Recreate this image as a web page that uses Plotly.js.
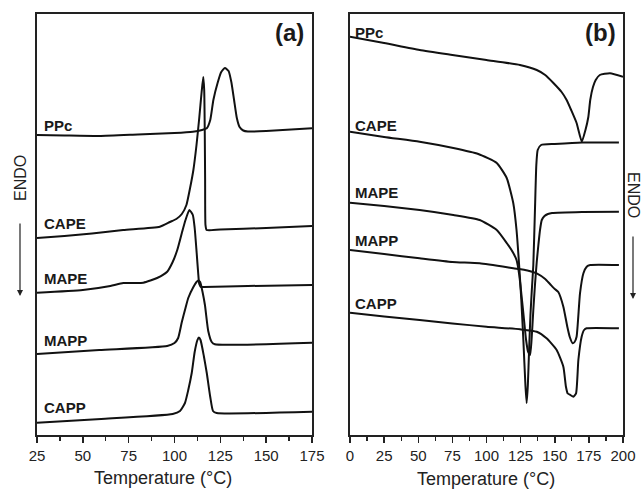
<!DOCTYPE html>
<html>
<head>
<meta charset="utf-8">
<script src="https://cdn.plot.ly/plotly-3.0.1.min.js"></script>
<style>html,body{margin:0;padding:0;background:#fff;}#chart{width:642px;height:491px;}</style>
</head>
<body>
<div id="chart"></div>
<script>
// ---------- Data (heat flow in arbitrary units vs temperature in °C) ----------
const sampleNames = ["PPc", "CAPE", "MAPE", "MAPP", "CAPP"];
const panelLabels = ["(a)", "(b)"];
const axisTitle = "Temperature (°C)";
const endoLabel = "ENDO";
const tickValsA = [25, 50, 75, 100, 125, 150, 175];
const tickValsB = [0, 25, 50, 75, 100, 125, 150, 175, 200];

// Panel (a): cooling scans
const ppcA_T = [25,40,59,80,100,110,115,117.6,119.5,121.2,123.5,125.5,127.5,129.5,131,132.5,134,135.5,137.5,140,150,175];
const ppcA_Y = [300,299.5,299,300.5,302,303.3,305,306.7,315,335,352,363,367,364,353,335,317,308,304.5,303.5,304,306.7];

const capeA_T = [25,40,55,72,92,97.5,101,104,106.5,108.5,110.3,112,113.5,114.8,115.7,116.2,116.5,116.7,116.9,117.5,125,150,175];
const capeA_Y = [197,199,201.5,205,208.3,213,216,221,230,247,265,290,317,343,358,345,305,255,210,205,205.5,207,209];

const mapeA_T = [25,50,65,72,83,90.5,96,99,101.5,104,106,108.1,110,111,112.1,113,113.5,114.5,116,140,175];
const mapeA_Y = [142.3,145,149,152,152.3,157,163.3,173,185,202,215,225,220,207,182,160,151,148,148,149,150];

const mappA_T = [25,59,96,100,102,104,106,107.5,110.3,112,113,114,115.3,116.6,118.4,120.3,122,175];
const mappA_Y = [81,85,89,92,97,113,127,137,148,153,154.5,153,143,130,104,93,90.7,92.3];

const cappA_T = [25,60,99,103,105.7,107.5,109.4,111,112.5,113.3,114.2,116,117.6,119.5,121,123,175];
const cappA_Y = [12.3,16,21,24,32,45,62,83,95,97.5,95,79,62,38,24,22,23.3];

// Panel (b): heating scans
const ppcB_T = [0,25,51,75,100,124.5,136.8,143,149,155,158.7,162,166,169.8,172.5,174.6,176,178,180,183,190.5,200];
const ppcB_Y = [398.3,392,385,380,375,370,365,360,352,343,335,325,312,293.3,305,318,335,348,355,360,361.7,358.3];

const capeB_T = [0,25,51,75.7,94,107.5,114.8,119.6,122,124,125.5,127,128.5,129.4,130.3,131.2,132.2,133.2,134.3,135.5,136.5,137.5,140,150,170,197];
const capeB_Y = [303.3,298,293.3,287,281,272,257,232,205,168,135,95,50,32,50,85,120,145,170,225,270,285,290,291,292.5,292.5];

const mapeB_T = [0,25,51,75.7,95,107.5,114.8,119.6,122,124,126,127.5,129,130.5,131.9,133,134.3,135.5,136.8,138,139.2,140.5,142.5,145,148,170,197];
const mapeB_Y = [232.3,229,225,220,215,205,192,182,175,160,135,115,95,83,80,95,125,150,173,190,205,215,219,221,222,223,223.3];

const mappB_T = [0,25,51,75,95,119.6,130,136.8,143,146.5,150,152.6,156.3,159.2,161,163.1,164.5,166,168.5,171,173.4,176,197];
const mappB_Y = [185,181,176.7,173,171.7,166.7,164.5,161.7,156,151,146,143,128.3,108.3,98,91.7,93,98.3,141.7,161.7,168.3,170,170];

const cappB_T = [0,25,51,75,100,124.5,136.8,144,151.4,156.3,158.2,159.5,161.5,163.6,165.6,167.3,169.7,171.5,173.4,197];
const cappB_Y = [122.3,118.5,115,111.5,108.3,105.7,103.3,96.7,85,68.3,48.3,41.5,40,38.3,41.7,75,98.3,105,106.7,106.7];

// Label anchor values (signal level) for each sample name, per panel
const labelT_A = 27.5, labelT_B = 2.3;
const labelY_A = [310, 212, 157, 95, 28];
const labelY_B = [403, 310, 243, 195, 132];

// ---------- Build ----------
const W = 642, H = 491;
const px = v => v / W, py = v => 1 - v / H;
const lineStyle = {color: "#111", width: 2};
const seriesA = [[ppcA_T, ppcA_Y],[capeA_T, capeA_Y],[mapeA_T, mapeA_Y],[mappA_T, mappA_Y],[cappA_T, cappA_Y]];
const seriesB = [[ppcB_T, ppcB_Y],[capeB_T, capeB_Y],[mapeB_T, mapeB_Y],[mappB_T, mappB_Y],[cappB_T, cappB_Y]];

const traces = [];
seriesA.forEach((s, i) => traces.push({x: s[0], y: s[1], xaxis: "x", yaxis: "y", mode: "lines",
  line: Object.assign({shape: "spline", smoothing: 0.5}, lineStyle), name: sampleNames[i] + " (a)", hoverinfo: "x+y+name"}));
seriesB.forEach((s, i) => traces.push({x: s[0], y: s[1], xaxis: "x2", yaxis: "y2", mode: "lines",
  line: Object.assign({shape: "spline", smoothing: 0.5}, lineStyle), name: sampleNames[i] + " (b)", hoverinfo: "x+y+name"}));

const tickFont = {family: "Liberation Sans, Arial, sans-serif", size: 15, color: "#222"};
function xax(domain, range, vals) {
  return {domain: domain, range: range, tickvals: vals, ticktext: vals.map(String), ticks: "outside", ticklen: 6, tickwidth: 1.5,
    tickcolor: "#222", showline: true, linecolor: "#222", linewidth: 1.8, mirror: true, showgrid: false, zeroline: false,
    tickfont: tickFont, minor: {dtick: 12.5, tick0: 0, ticks: "outside", ticklen: 4, tickwidth: 1.2, tickcolor: "#222"}};
}
function yax(anchor) {
  return {domain: [py(435), py(14)], range: [0, 421], showticklabels: false, ticks: "", showline: true, linecolor: "#222",
    linewidth: 1.8, mirror: true, showgrid: false, zeroline: false, anchor: anchor};
}

const labelFont = {family: "Liberation Sans, Arial, sans-serif", size: 15, color: "#1a1a1a"};
const annotations = [];
sampleNames.forEach((n, i) => {
  annotations.push({xref: "x", yref: "y", x: labelT_A, y: labelY_A[i], text: "<b>" + n + "</b>", showarrow: false,
    xanchor: "left", yanchor: "middle", font: labelFont});
  annotations.push({xref: "x2", yref: "y2", x: labelT_B, y: labelY_B[i], text: "<b>" + n + "</b>", showarrow: false,
    xanchor: "left", yanchor: "middle", font: labelFont});
});
const panelFont = {family: "Liberation Sans, Arial, sans-serif", size: 24, color: "#1a1a1a"};
annotations.push({xref: "paper", yref: "paper", x: px(306), y: py(33), text: "<b>" + panelLabels[0] + "</b>", showarrow: false, xanchor: "right", yanchor: "middle", font: panelFont});
annotations.push({xref: "paper", yref: "paper", x: px(618), y: py(33), text: "<b>" + panelLabels[1] + "</b>", showarrow: false, xanchor: "right", yanchor: "middle", font: panelFont});
const titleFont = {family: "Liberation Sans, Arial, sans-serif", size: 18, color: "#222"};
annotations.push({xref: "paper", yref: "paper", x: px(163), y: py(478), text: axisTitle, showarrow: false, xanchor: "center", yanchor: "middle", font: titleFont});
annotations.push({xref: "paper", yref: "paper", x: px(486.5), y: py(479), text: axisTitle, showarrow: false, xanchor: "center", yanchor: "middle", font: titleFont});
const endoFont = {family: "Liberation Sans, Arial, sans-serif", size: 16, color: "#222"};
annotations.push({xref: "paper", yref: "paper", x: px(20), y: py(178), text: endoLabel, textangle: -90, showarrow: false, xanchor: "center", yanchor: "middle", font: endoFont});
annotations.push({xref: "paper", yref: "paper", x: px(634), y: py(195), text: endoLabel, textangle: 90, showarrow: false, xanchor: "center", yanchor: "middle", font: endoFont});
annotations.push({xref: "paper", yref: "paper", x: px(20), y: py(296), text: "", showarrow: true, ax: 0, ay: -74, arrowhead: 2, arrowsize: 1, arrowwidth: 1.2, arrowcolor: "#222"});
annotations.push({xref: "paper", yref: "paper", x: px(633), y: py(299), text: "", showarrow: true, ax: 0, ay: -64, arrowhead: 2, arrowsize: 1, arrowwidth: 1.2, arrowcolor: "#222"});

const layout = {
  width: W, height: H, margin: {l: 0, r: 0, t: 0, b: 0}, paper_bgcolor: "#fff", plot_bgcolor: "#fff", showlegend: false,
  xaxis: xax([px(37), px(312)], [25, 175], tickValsA),
  yaxis: yax("x"),
  xaxis2: xax([px(350), px(623)], [0, 200], tickValsB),
  yaxis2: yax("x2"),
  annotations: annotations
};
layout.xaxis.anchor = "y";
layout.xaxis2.anchor = "y2";

Plotly.newPlot("chart", traces, layout, {displayModeBar: false, staticPlot: true});
</script>
</body>
</html>
